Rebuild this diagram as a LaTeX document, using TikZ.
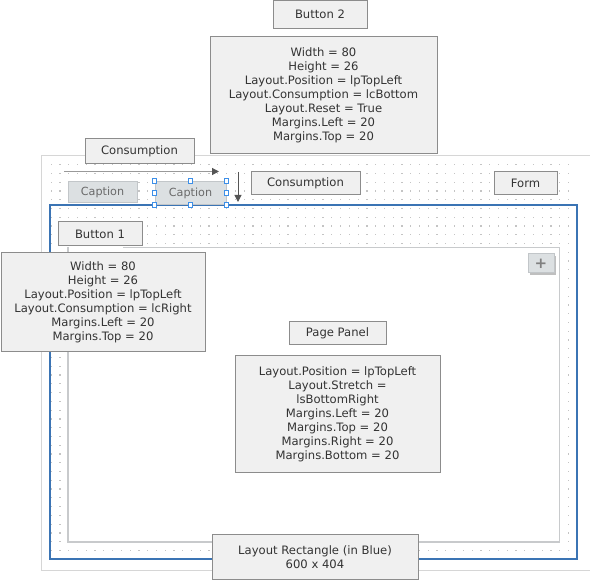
\documentclass[tikz,border=0pt]{standalone}
\usepackage{fontspec}
\setmainfont{DejaVu Sans}
\usepackage{tikz}
\usetikzlibrary{arrows.meta, positioning}

\definecolor{calloutfill}{HTML}{F0F0F0}
\definecolor{calloutline}{HTML}{8C8C8C}
\definecolor{callouttext}{HTML}{333333}
\definecolor{formline}{HTML}{D6D6D6}
\definecolor{dotgray}{HTML}{C4C4C4}
\definecolor{layoutblue}{HTML}{3B74B4}
\definecolor{panelline}{HTML}{C8CACC}
\definecolor{captionfill}{HTML}{DCE0E2}
\definecolor{captionline}{HTML}{C2C6C9}
\definecolor{captiontext}{HTML}{6A6A6A}
\definecolor{handleblue}{HTML}{3D8FE8}
\definecolor{arrowgray}{HTML}{555555}

\begin{document}
\begin{tikzpicture}[x=1pt,y=-1pt,>={Triangle[length=7pt,width=7pt,color=arrowgray]},
    every node/.style={font=\fontsize{11.6}{14}\selectfont},
    callout/.style={draw=calloutline,fill=calloutfill,text=callouttext,align=center,inner sep=0pt,line width=1pt},
    caption/.style={draw=captionline,fill=captionfill,text=captiontext,inner sep=0pt,line width=1pt,font=\fontsize{11.2}{13}\selectfont},
    handle/.style={draw=handleblue,fill=white,line width=0.8pt,minimum size=4.5pt,inner sep=0pt},
    plusbox/.style={draw=captionline,fill=captionfill,text=black!50,inner sep=0pt,line width=1pt,font=\fontsize{15}{15}\selectfont\bfseries}]

  \useasboundingbox (0,0) rectangle (590,580);

  \draw[formline, line width=1pt] (41,155.5) rectangle (600,570.5);
  \foreach \i in {0,...,59}
    \foreach \j in {0,...,44}
      \fill[dotgray] ({50.6+\i*8.77},{164+\j*8.77}) rectangle ++(1.2,1.2);

  \draw[layoutblue, line width=2pt] (50,205) rectangle (577,559);
  \fill[white] (68,247.5) rectangle (559.5,542);
  \draw[panelline, line width=1.3pt] (123,247.5) -- (559.5,247.5) -- (559.5,542) -- (68,542) -- (68,247.5);

  \fill[black!25] (530,256) rectangle (556,275);
  \node[plusbox, minimum width=26, minimum height=19] (plus) at (541,263.5) {+};

  \node[caption, minimum width=69, minimum height=21] (cap1) at (102.5,192.5) {Caption};
  \node[caption, minimum width=71, minimum height=23] (cap2) at (190.5,193) {Caption};
  \foreach \a in {north west, north, north east, east, south east, south, south west, west}
    \node[handle] at (cap2.\a) {};

  \coordinate (hstart) at (64,171.5);
  \coordinate (hend) at (219,171.5);
  \coordinate (vstart) at (238,172);
  \coordinate (vend) at (238,202);
  \draw[->, line width=1.2pt, draw=black!40] (hstart) -- (hend);
  \draw[->, arrowgray, line width=1pt] (vstart) -- (vend);

  \node[callout, minimum width=94, minimum height=27.5] (btn2) at (320,14.5) {Button 2};
  \node[callout, minimum width=227, minimum height=117] (btn2info) at (323.5,95.5)
    {Width = 80\\Height = 26\\Layout.Position = lpTopLeft\\Layout.Consumption = lcBottom\\Layout.Reset = True\\Margins.Left = 20\\Margins.Top = 20};
  \node[callout, minimum width=109, minimum height=25] (cons1) at (139.5,151.5) {Consumption};
  \node[callout, minimum width=109, minimum height=23] (cons2) at (305.5,183.5) {Consumption};
  \node[callout, minimum width=63, minimum height=23] (form) at (525.5,183.5) {Form};
  \node[callout, minimum width=84, minimum height=24] (btn1) at (100,234) {Button 1};
  \node[callout, minimum width=204, minimum height=99] (btn1info) at (103,302.5)
    {Width = 80\\Height = 26\\Layout.Position = lpTopLeft\\Layout.Consumption = lcRight\\Margins.Left = 20\\Margins.Top = 20};
  \node[callout, minimum width=97, minimum height=23] (panel) at (337.5,333.5) {Page Panel};
  \node[callout, minimum width=205, minimum height=117] (panelinfo) at (337.5,414.5)
    {Layout.Position = lpTopLeft\\Layout.Stretch =\\lsBottomRight\\Margins.Left = 20\\Margins.Top = 20\\Margins.Right = 20\\Margins.Bottom = 20};
  \node[callout, minimum width=206, minimum height=45] (layout) at (315,557)
    {Layout Rectangle (in Blue)\\600 x 404};
\end{tikzpicture}
\end{document}
